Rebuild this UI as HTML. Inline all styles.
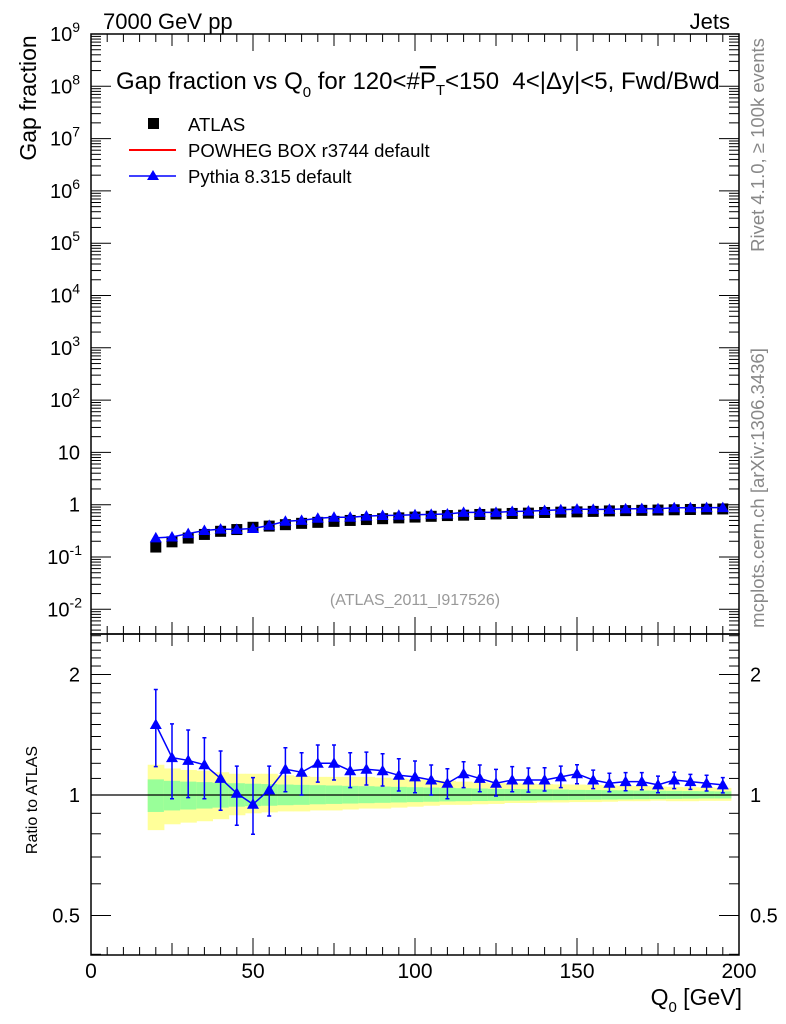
<!DOCTYPE html>
<html><head><meta charset="utf-8"><style>
body{margin:0;background:#fff;}
svg{display:block;font-family:"Liberation Sans",Arial,sans-serif;}
</style></head><body>
<svg id="chart" width="786" height="1024" viewBox="0 0 786 1024" xmlns="http://www.w3.org/2000/svg">
<g id="bands"></g>
<g id="axes"></g>
<g id="marks"></g>
<text x="103" y="29" font-size="22">7000 GeV pp</text>
<text x="730" y="29" font-size="22" text-anchor="end">Jets</text>
<text x="116" y="89" font-size="24" xml:space="preserve">Gap fraction vs Q<tspan font-size="15" dy="8">0</tspan><tspan dy="-8"> for 120&lt;#</tspan><tspan text-decoration="overline">P</tspan><tspan font-size="15" dy="6">T</tspan><tspan dy="-6">&lt;150  4&lt;|Δy|&lt;5, Fwd/Bwd</tspan></text>
<text transform="translate(36,98) rotate(-90)" font-size="23" text-anchor="middle">Gap fraction</text>
<text transform="translate(37,800) rotate(-90)" font-size="16" text-anchor="middle">Ratio to ATLAS</text>
<text x="742" y="1005" font-size="23" text-anchor="end">Q<tspan font-size="15" dy="7">0</tspan><tspan dy="-7"> [GeV]</tspan></text>
<text transform="translate(764,145) rotate(-90)" font-size="18.5" fill="#888" text-anchor="middle">Rivet 4.1.0, ≥ 100k events</text>
<text transform="translate(764,488) rotate(-90)" font-size="18.5" fill="#888" text-anchor="middle">mcplots.cern.ch [arXiv:1306.3436]</text>
<text x="415" y="605" font-size="16" fill="#999" text-anchor="middle">(ATLAS_2011_I917526)</text>
<g>
<rect x="148" y="118" width="11" height="11" fill="#000"/>
<text x="188" y="131" font-size="18.5">ATLAS</text>
<line x1="129" y1="150" x2="176" y2="150" stroke="#f00" stroke-width="2"/>
<text x="188" y="157" font-size="18.5">POWHEG BOX r3744 default</text>
<line x1="129" y1="176" x2="176" y2="176" stroke="#00f" stroke-width="1.5"/>
<polygon points="153,170 159,180 147,180" fill="#00f"/>
<text x="188" y="183" font-size="18.5">Pythia 8.315 default</text>
</g>
</svg>
<script>
const qValues=[20,25,30,35,40,45,50,55,60,65,70,75,80,85,90,95,100,105,110,115,120,125,130,135,140,145,150,155,160,165,170,175,180,185,190,195];
const atlasValues=[0.155,0.195,0.23,0.27,0.31,0.335,0.37,0.39,0.415,0.44,0.46,0.48,0.5,0.52,0.54,0.56,0.58,0.6,0.62,0.63,0.65,0.665,0.68,0.69,0.71,0.72,0.73,0.745,0.76,0.77,0.78,0.79,0.8,0.81,0.82,0.83];
const pythiaRatio=[1.50,1.24,1.22,1.19,1.10,1.01,0.948,1.03,1.16,1.14,1.20,1.20,1.15,1.16,1.15,1.12,1.11,1.09,1.07,1.13,1.10,1.07,1.09,1.09,1.09,1.11,1.13,1.09,1.07,1.08,1.08,1.06,1.09,1.08,1.07,1.06];
const pythiaRatioUp=[1.835,1.506,1.453,1.390,1.288,1.181,1.105,1.181,1.312,1.275,1.333,1.333,1.275,1.280,1.268,1.232,1.216,1.188,1.163,1.211,1.188,1.159,1.177,1.168,1.170,1.181,1.190,1.154,1.133,1.137,1.137,1.115,1.141,1.126,1.120,1.105];
const pythiaRatioDn=[1.177,0.979,0.985,0.979,0.916,0.840,0.798,0.886,1.019,1.0,1.077,1.090,1.043,1.059,1.053,1.023,1.013,1.0,0.979,1.043,1.019,0.994,1.019,1.017,1.023,1.043,1.067,1.037,1.019,1.025,1.031,1.013,1.037,1.033,1.023,1.012];
const yellowUp=[1.19,1.165,1.155,1.15,1.14,1.13,1.13,1.13,1.12,1.115,1.11,1.11,1.11,1.11,1.105,1.10,1.095,1.09,1.085,1.08,1.075,1.07,1.07,1.068,1.065,1.063,1.062,1.06,1.057,1.055,1.053,1.05,1.048,1.046,1.044,1.042];
const yellowDn=[0.817,0.845,0.853,0.86,0.87,0.89,0.9,0.905,0.91,0.91,0.915,0.915,0.92,0.925,0.925,0.93,0.935,0.94,0.945,0.945,0.948,0.95,0.955,0.955,0.958,0.958,0.96,0.96,0.962,0.965,0.965,0.968,0.965,0.965,0.967,0.967];
const greenUp=[1.094,1.085,1.08,1.077,1.073,1.07,1.067,1.065,1.062,1.06,1.058,1.056,1.054,1.052,1.05,1.048,1.046,1.044,1.042,1.04,1.038,1.036,1.035,1.034,1.033,1.032,1.03,1.029,1.028,1.027,1.026,1.025,1.024,1.023,1.022,1.021];
const greenDn=[0.907,0.915,0.92,0.925,0.93,0.935,0.938,0.94,0.943,0.945,0.948,0.95,0.952,0.954,0.956,0.958,0.96,0.962,0.964,0.965,0.966,0.967,0.968,0.969,0.97,0.971,0.972,0.973,0.974,0.975,0.976,0.977,0.978,0.979,0.98,0.98];
const xTickLabels=[0,50,100,150,200];
const ratioTickLabels=[0.5,1,2];

const NS="http://www.w3.org/2000/svg";
const L=91,R=739,T=34,MB=634,RB=955;
const X=v=>L+(v/200)*(R-L);
const YM=v=>T+(9-Math.log10(v))*52.3;
const YR=v=>795-120.5*Math.log2(v);
function mk(parent,tag,attrs){const e=document.createElementNS(NS,tag);for(const k in attrs)e.setAttribute(k,attrs[k]);document.getElementById(parent).appendChild(e);return e;}

qValues.forEach((q,i)=>{
  const y=mk('bands','rect',{x:X(q-2.5),y:YR(yellowUp[i]),width:X(q+2.5)-X(q-2.5)+0.5,height:YR(yellowDn[i])-YR(yellowUp[i]),fill:'#ffff99'});
  
  
  const g=mk('bands','rect',{x:X(q-2.5),y:YR(greenUp[i]),width:X(q+2.5)-X(q-2.5)+0.5,height:YR(greenDn[i])-YR(greenUp[i]),fill:'#99ff99'});
  
  
});

const f1=mk('axes','rect',{x:L,y:T,width:R-L,height:MB-T,fill:'none',stroke:'#000','stroke-width':1.5});


const f2=mk('axes','rect',{x:L,y:MB,width:R-L,height:RB-MB,fill:'none',stroke:'#000','stroke-width':1.5});


const one=mk('axes','line',{x1:L,x2:R,y1:YR(1),y2:YR(1),stroke:'#000','stroke-width':1.2});



function tick(x1,y1,x2,y2){const t=mk('axes','line',{x1,y1,x2,y2,stroke:'#000','stroke-width':1});

}
for(let v=0;v<=200;v+=5){const len=v%50===0?17:(v%25===0?12:8);const x=X(v);
  tick(x,MB,x,MB-len);tick(x,T,x,T+len);tick(x,RB,x,RB-len);tick(x,MB,x,MB+len);}
xTickLabels.forEach(v=>{const t=mk('axes','text',{x:X(v),y:978,'font-size':21,'text-anchor':'middle'});t.textContent=v;

});
for(let d=-3;d<=9;d++){for(let m=1;m<10;m++){const v=m*Math.pow(10,d);const y=YM(v);if(y<T-0.5||y>MB)continue;const len=m===1?20:10;tick(L,y,L+len,y);tick(R,y,R-len,y);}}
for(let d=-2;d<=9;d++){const y=YM(Math.pow(10,d));const t=mk('axes','text',{x:80,y:y+7,'font-size':20,'text-anchor':'end'});
  
  
  if(d===0)t.textContent='1';else if(d===1)t.textContent='10';else{t.innerHTML='10<tspan font-size="14" dy="-9">'+d+'</tspan>';if(d<0)t.setAttribute('x',82);}}
const rt=[0.4,0.5,0.6,0.7,0.8,0.9,1,1.1,1.2,1.3,1.4,1.5,1.6,1.7,1.8,1.9,2,2.1,2.2,2.3,2.4,2.5];
rt.forEach(v=>{const y=YR(v);if(y<MB||y>RB)return;const len=ratioTickLabels.includes(v)?20:10;tick(L,y,L+len,y);tick(R,y,R-len,y);});
ratioTickLabels.forEach(v=>{const y=YR(v)+7;
  const a=mk('axes','text',{x:80,y,'font-size':20,'text-anchor':'end'});a.textContent=v;
  
  
  const b=mk('axes','text',{x:750,y,'font-size':20});b.textContent=v;
  
  });

const pythiaMain=atlasValues.map((a,i)=>a*pythiaRatio[i]);
qValues.forEach((q,i)=>{const s=mk('marks','rect',{x:X(q)-5.5,y:YM(atlasValues[i])-5.5,width:11,height:11,fill:'#000'});
  
  });
const pl=mk('marks','polyline',{points:qValues.map((q,i)=>X(q)+','+YM(pythiaMain[i])).join(' '),fill:'none',stroke:'#00f','stroke-width':1.5});


function tri(x,y,name){const p=mk('marks','polygon',{points:`${x},${y-6} ${x+6},${y+4.5} ${x-6},${y+4.5}`,fill:'#00f'});
  
  }
qValues.forEach((q,i)=>tri(X(q),YM(pythiaMain[i]),'pythia-main-point'));

qValues.forEach((q,i)=>{const x=X(q);const e=mk('marks','path',{d:`M${x},${YR(pythiaRatioUp[i])}V${YR(pythiaRatioDn[i])}M${x-2},${YR(pythiaRatioUp[i])}h4M${x-2},${YR(pythiaRatioDn[i])}h4`,stroke:'#00f','stroke-width':1.5,fill:'none'});
  
  });
const rl=mk('marks','polyline',{points:qValues.map((q,i)=>X(q)+','+YR(pythiaRatio[i])).join(' '),fill:'none',stroke:'#00f','stroke-width':1.5});


qValues.forEach((q,i)=>tri(X(q),YR(pythiaRatio[i]),'pythia-ratio-point'));
</script>
</body></html>
